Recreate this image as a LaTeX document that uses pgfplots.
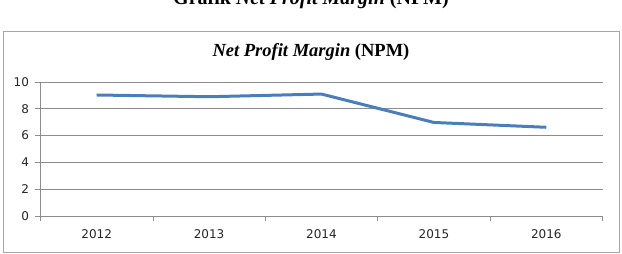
\documentclass[border=0pt]{standalone}
\usepackage{fontspec}
\setmainfont{Liberation Serif}
\newfontfamily\tickfont{DejaVu Sans}
\usepackage{pgfplots}
\pgfplotsset{compat=1.18}
\definecolor{npmblue}{HTML}{4A7EBB}
\definecolor{gridgray}{HTML}{8C8C8C}
\definecolor{framegray}{HTML}{A6A6A6}
\begin{document}
\begin{tikzpicture}[x=1pt,y=1pt]
\clip (0,0) rectangle (622,254);
\path[use as bounding box] (0,0) rectangle (622,254);
\draw[framegray, line width=1pt] (3,1.5) rectangle (619,222);
\node[font=\bfseries\fontsize{20}{20}\selectfont, anchor=base, inner sep=0pt] at (311,249.5) {Grafik \textit{Net Profit Margin} (NPM)};
\node[font=\bfseries\fontsize{18.5}{18.5}\selectfont, anchor=base, inner sep=0pt] at (311,197) {\textit{Net Profit Margin} (NPM)};
\begin{axis}[
  at={(40.5pt,38pt)}, anchor=south west,
  scale only axis, width=562pt, height=134pt,
  xmin=-0.5, xmax=4.5, ymin=0, ymax=10,
  xtick={0,1,2,3,4},
  xticklabels={2012,2013,2014,2015,2016},
  minor xtick={-0.5,0.5,1.5,2.5,3.5,4.5},
  ytick={0,2,4,6,8,10},
  axis x line*=bottom, axis y line*=left,
  axis line style={gridgray, line width=0.8pt, -},
  tick align=outside,
  major tick length=5pt, minor tick length=5pt,
  major x tick style={draw=none},
  minor x tick style={gridgray, line width=0.8pt},
  major y tick style={gridgray, line width=0.8pt},
  ymajorgrids, grid style={gridgray, line width=0.8pt},
  tick label style={font=\tickfont\fontsize{12}{12}\selectfont, text=black!85},
  yticklabel style={xshift=-3pt},
  xticklabel style={yshift=-5pt},
  /pgf/number format/assume math mode=true,
  clip=false,
]
\addplot[npmblue, line width=3pt, line join=round, mark=none] coordinates {
  (0,9.03) (1,8.9) (2,9.1) (3,6.98) (4,6.62)
};
\end{axis}
\end{tikzpicture}
\end{document}
